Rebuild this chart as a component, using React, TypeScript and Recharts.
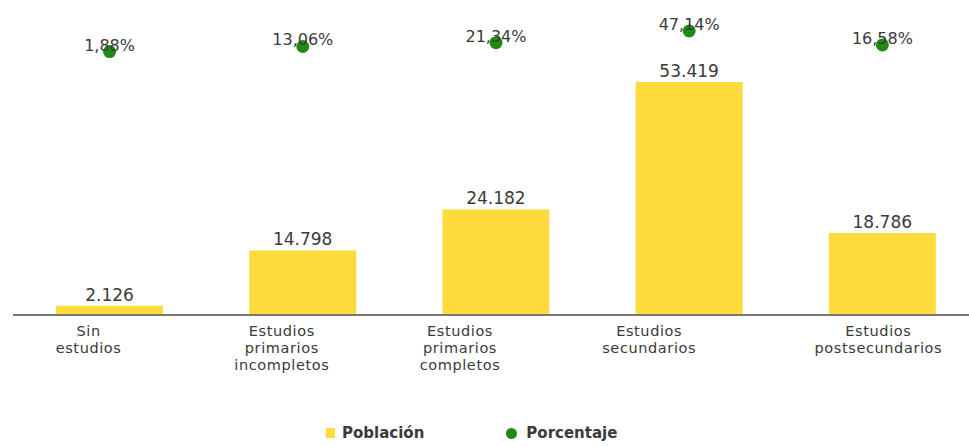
import { ComposedChart, Bar, Line, XAxis, YAxis, LabelList, Legend } from 'recharts';

const CATEGORIES = [
  'Sin\nestudios',
  'Estudios\nprimarios\nincompletos',
  'Estudios\nprimarios\ncompletos',
  'Estudios\nsecundarios',
  'Estudios\npostsecundarios',
];
const POBLACION = [2126, 14798, 24182, 53419, 18786];
const PORCENTAJE = [1.88, 13.06, 21.34, 47.14, 16.58];

// the original wraps its labels in boxes that sit a bit left of the bars
const TICK_DX = [-21, -21, -36, -40, -4];

const BAR_COLOR = '#ffdb3d';
const DOT_COLOR = '#218a12';
const TEXT_COLOR = '#3a3a3a';
const FONT = '"DejaVu Sans", Verdana, sans-serif';

const data = CATEGORIES.map((name, i) => ({
  name,
  poblacion: POBLACION[i],
  porcentaje: PORCENTAJE[i],
}));

const fmtThousands = (v: number) => String(v).replace(/\B(?=(\d{3})+(?!\d))/g, '.');
const fmtPct = (v: number) => v.toFixed(2).replace('.', ',') + '%';

const CategoryTick = (props: any) => {
  const { x, y, payload, index } = props;
  const lines = String(payload.value).split('\n');
  const cx = x + (TICK_DX[index] ?? 0);
  return (
    <text x={cx} y={y} textAnchor="middle" fill={TEXT_COLOR} fontSize={14.5} letterSpacing={0.6} fontFamily={FONT}>
      {lines.map((line, i) => (
        <tspan key={i} x={cx} dy={i === 0 ? 19 : 17}>
          {line}
        </tspan>
      ))}
    </text>
  );
};

const LegendContent = () => (
  <div style={{ display: 'flex', alignItems: 'center', fontFamily: FONT, fontSize: 15, fontWeight: 'bold', color: TEXT_COLOR }}>
    <span style={{ display: 'inline-block', width: 9, height: 10, background: BAR_COLOR, marginRight: 7 }} />
    <span>Población</span>
    <span style={{ display: 'inline-block', width: 11, height: 11, borderRadius: '50%', background: DOT_COLOR, marginLeft: 82, marginRight: 9 }} />
    <span>Porcentaje</span>
  </div>
);

export default function App() {
  return (
    <div style={{ position: 'absolute', left: 0, top: 0, width: 969, height: 446, overflow: 'hidden', background: '#fff' }}>
      <ComposedChart width={990} height={446} data={data} margin={{ top: 20, right: 11, bottom: 101, left: 13 }}>
        <XAxis
          dataKey="name"
          height={30}
          interval={0}
          tickLine={false}
          tickSize={0}
          axisLine={{ stroke: '#777', strokeWidth: 2 }}
          tick={<CategoryTick />}
        />
        <YAxis yAxisId="left" hide domain={[0, 67600]} />
        <YAxis yAxisId="right" hide orientation="right" domain={[-574, 71]} />
        <Legend
          layout="horizontal"
          verticalAlign="middle"
          align="center"
          wrapperStyle={{ top: 424, left: 326, width: 400 }}
          content={<LegendContent />}
        />
        <Bar yAxisId="left" dataKey="poblacion" fill={BAR_COLOR} barSize={107} isAnimationActive={false}>
          <LabelList
            dataKey="poblacion"
            position="top"
            offset={5}
            formatter={(v: any) => fmtThousands(Number(v))}
            style={{ fill: TEXT_COLOR, fontSize: 17, fontFamily: FONT }}
          />
        </Bar>
        <Line
          yAxisId="right"
          dataKey="porcentaje"
          stroke="none"
          dot={{ r: 6.5, fill: DOT_COLOR, stroke: 'none' }}
          activeDot={false}
          isAnimationActive={false}
        >
          <LabelList
            dataKey="porcentaje"
            position="top"
            offset={1}
            formatter={(v: any) => fmtPct(Number(v))}
            style={{ fill: TEXT_COLOR, fontSize: 16, fontFamily: FONT }}
          />
        </Line>
      </ComposedChart>
    </div>
  );
}
